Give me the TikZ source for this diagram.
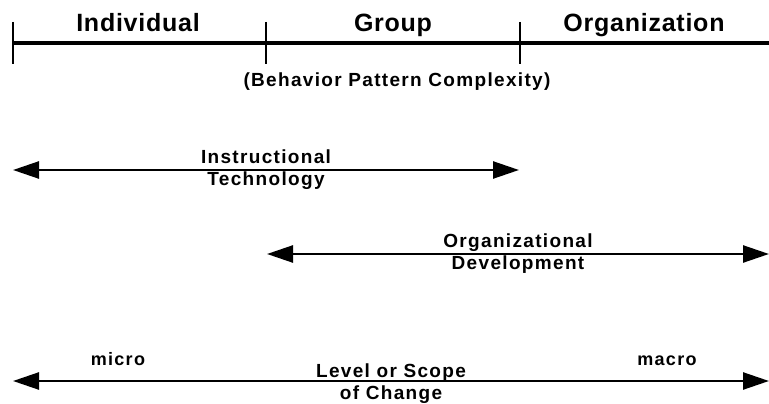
\documentclass[tikz,border=0pt]{standalone}
\usepackage{fontspec}
\setmainfont{Liberation Sans}
\newfontfamily\headfont{Liberation Sans}[LetterSpace=3]
\newfontfamily\widefont{Liberation Sans}[LetterSpace=7]
\usetikzlibrary{arrows.meta,positioning}

\begin{document}
\begin{tikzpicture}
[x=1pt, y=-1pt,
axis/.style={line width=4pt},
tickmark/.style={line width=2.5pt},
span/.style={line width=2.5pt,
{Triangle[length=26pt,width=17pt]}-{Triangle[length=26pt,width=17pt]}},
level/.style={font=\headfont\fontsize{25}{28}\selectfont\bfseries,
anchor=base, inner sep=0pt},
caption/.style={font=\widefont\fontsize{19}{22}\selectfont\bfseries,
align=center, inner sep=0pt},
endlabel/.style={font=\widefont\fontsize{18}{21}\selectfont\bfseries,
anchor=base, inner sep=0pt}]

\useasboundingbox (0,0) rectangle (769,404);

% Draw scale
\coordinate (ind) at (13,43);
\coordinate (grp) at (266,43);
\coordinate (org) at (520,43);
\coordinate (end) at (769,43);
\draw[axis] (ind) -- (end);
\foreach \t in {ind,grp,org}
  \draw[tickmark] (\t) ++(0,-21) -- ++(0,42);

\node[level] (individual) at (138,32) {Individual};
\node[level] (group) at (393,32) {Group};
\node[level] (organization) at (644,32) {Organization};
\node[caption, anchor=base] (complexity) at (397,87)
  {(Behavior Pattern Complexity)};

% Draw spans
\coordinate (it-l) at (13,170);
\coordinate (it-r) at (519,170);
\coordinate (od-l) at (267,254);
\coordinate (od-r) at (769,254);
\coordinate (lc-l) at (13,381);
\coordinate (lc-r) at (769,381);

\draw[span] (it-l) -- node[caption] (instr) {Instructional\\Technology} (it-r);
\draw[span] (od-l) -- node[caption] (orgdev) {Organizational\\Development} (od-r);
\draw[span] (lc-l) -- node[caption, yshift=-3pt] (scope) {Level or Scope\\of Change} (lc-r);

\node[endlabel] (micro) at (118,365) {micro};
\node[endlabel] (macro) at (667,365) {macro};

\end{tikzpicture}
\end{document}
